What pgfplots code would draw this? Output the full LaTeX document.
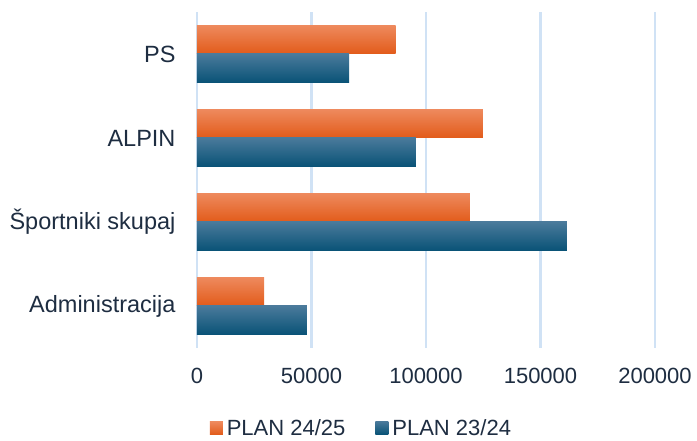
\documentclass[border=0pt]{standalone}
\usepackage{fontspec}
\setmainfont{Liberation Sans}
\usepackage{pgfplots}
\pgfplotsset{compat=1.18}
\definecolor{txt}{RGB}{30,45,65}
\definecolor{gridc}{RGB}{208,226,245}
\definecolor{orT}{RGB}{238,138,94}
\definecolor{orM}{RGB}{240,112,40}
\definecolor{orB}{RGB}{226,91,26}
\definecolor{blT}{RGB}{74,122,155}
\definecolor{blM}{RGB}{15,95,133}
\definecolor{blB}{RGB}{8,82,118}
\pgfplotsset{
  orbar/.style={draw=none, top color=orT, middle color=orM, bottom color=orB, bar shift=0.1725},
  blbar/.style={draw=none, top color=blT, middle color=blM, bottom color=blB, bar shift=-0.1725},
}
\begin{document}
\begin{tikzpicture}
\path[use as bounding box] (-197pt,-93pt) rectangle (500pt,348pt);
\begin{axis}[
  at={(0,0)}, anchor=south west,
  scale only axis, width=458pt, height=336pt,
  xbar, bar width=0.345,
  xmin=0, xmax=200000, ymin=-0.5, ymax=3.5,
  xtick={0,50000,100000,150000,200000},
  scaled x ticks=false,
  /pgf/number format/assume math mode=true,
  xticklabel={\pgfmathprintnumber[fixed,precision=0,1000 sep={}]{\tick}},
  ytick={0,1,2,3},
  yticklabels={Administracija,Športniki skupaj,ALPIN,PS},
  major tick length=0pt,
  tick style={draw=none},
  axis line style={draw=none},
  xmajorgrids, ymajorgrids=false,
  grid style={draw=gridc, line width=2.2pt},
  ticklabel style={font=\fontsize{22}{26}\selectfont, text=txt},
  xticklabel style={yshift=-17pt},
  yticklabel style={xshift=-18pt, font=\fontsize{23.5}{27}\selectfont},
  legend style={at={(axis description cs:0.359,-0.238)}, anchor=center,
    draw=none, fill=none, legend columns=2,
    font=\fontsize{22}{26}\selectfont, text=txt,
    /tikz/every even column/.append style={column sep=28pt},
    /tikz/every odd column/.append style={column sep=2pt}},
  legend image code/.code={\path[#1, draw=none] (0pt,-6.5pt) rectangle (13pt,6.5pt);},
]
% PLAN 24/25
\addplot[orbar] coordinates {(29260,0)};
\addplot[blbar] coordinates {(48030,0)};
\addplot[orbar, forget plot] coordinates {(119210,1)};
\addplot[orbar, forget plot] coordinates {(124890,2)};
\addplot[orbar, forget plot] coordinates {(86770,3)};
% PLAN 23/24
\addplot[blbar, forget plot] coordinates {(161570,1)};
\addplot[blbar, forget plot] coordinates {(95630,2)};
\addplot[blbar, forget plot] coordinates {(66380,3)};
\legend{PLAN 24/25, PLAN 23/24}
\end{axis}
\end{tikzpicture}
\end{document}
